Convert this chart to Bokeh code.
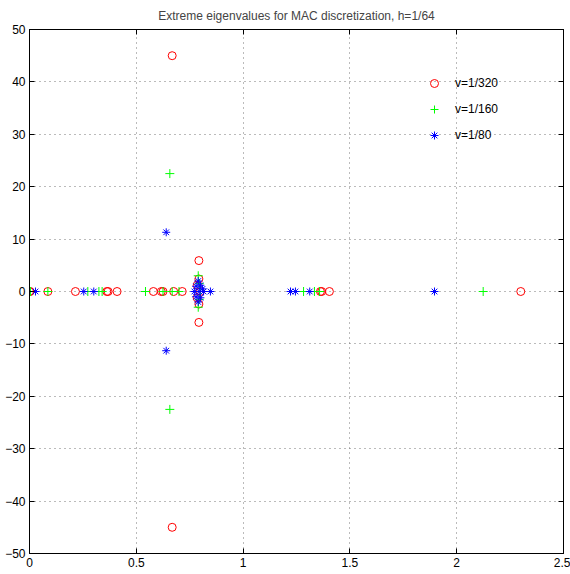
from bokeh.plotting import figure
from bokeh.models import Range1d, LinearAxis, Legend, LegendItem, FixedTicker
from bokeh.embed import file_html
from bokeh.resources import INLINE

# nu = 1/320
red_re = [0.0, 0.003, 0.086, 0.215, 0.362, 0.368, 0.41, 0.58, 0.617, 0.625, 0.675, 0.715,
          0.668, 0.668, 0.793, 0.793, 0.793, 0.793, 0.785, 0.785, 0.80, 1.362, 1.368, 1.404, 2.30]
red_im = [0, 0, 0, 0, 0, 0, 0, 0, 0, 0, 0, 0,
          45.0, -45.0, 5.9, -5.9, 2.4, -2.4, 1.2, -1.2, 0, 0, 0, 0, 0]
# nu = 1/160
green_re = [0.005, 0.086, 0.273, 0.325, 0.34, 0.543, 0.625, 0.668, 0.70, 0.657, 0.657,
            0.79, 0.79, 0.795, 0.795, 0.80, 1.283, 1.334, 1.358, 2.124]
green_im = [0, 0, 0, 0, 0, 0, 0, 0, 0, 22.5, -22.5, 3.0, -3.0, 1.5, -1.5, 0, 0, 0, 0, 0]
# nu = 1/80
blue_re = [0.028, 0.254, 0.301, 0.640, 0.640, 0.772, 0.78, 0.78, 0.79, 0.79, 0.795, 0.80,
           0.80, 0.81, 0.815, 0.847, 1.222, 1.245, 1.312, 1.896]
blue_im = [0, 0, 0, 11.3, -11.3, 0, 1.0, -1.0, 2.0, -2.0, 0, 1.2, -1.2, 0.5, 0, 0, 0, 0, 0, 0]

labels = ["v=1/320", "v=1/160", "v=1/80"]
x_ticks = [0, 0.5, 1, 1.5, 2, 2.5]
y_ticks = [-50, -40, -30, -20, -10, 0, 10, 20, 30, 40, 50]
title_text = "Extreme eigenvalues for MAC discretization, h=1/64"

FONT = "Liberation Sans"

p = figure(width=570, height=574, output_backend="svg", toolbar_location=None,
           x_range=Range1d(0, 2.5), y_range=Range1d(-50, 50),
           min_border_left=29, min_border_right=7, min_border_top=29, min_border_bottom=21,
           title=title_text)
p.title.align = "center"
p.title.text_font = FONT
p.title.text_font_size = "12px"
p.title.text_font_style = "normal"
p.title.standoff = 13
p.outline_line_color = "black"
p.background_fill_color = "white"
p.border_fill_color = "white"

for ax in (p.xaxis[0], p.yaxis[0]):
    ax.major_tick_in = 5
    ax.major_tick_out = 0
    ax.minor_tick_line_color = None
    ax.axis_line_color = "black"
    ax.major_tick_line_color = "black"
    ax.major_label_text_font = FONT
    ax.major_label_text_font_size = "12px"
    ax.major_label_text_color = "black"
    ax.major_label_standoff = 4
p.xaxis[0].ticker = FixedTicker(ticks=x_ticks)
p.yaxis[0].ticker = FixedTicker(ticks=y_ticks)

# box ticks on the right and top (no labels drawn)
ax_r = LinearAxis(ticker=FixedTicker(ticks=y_ticks), major_label_text_font_size="1px",
                  major_label_text_color=None, major_label_text_alpha=0,
                  major_tick_in=5, major_tick_out=0, minor_tick_line_color=None,
                  major_label_standoff=0, axis_line_color="black")
ax_t = LinearAxis(ticker=FixedTicker(ticks=x_ticks), major_label_text_font_size="1px",
                  major_label_text_color=None, major_label_text_alpha=0,
                  major_tick_in=5, major_tick_out=0, minor_tick_line_color=None,
                  major_label_standoff=0, axis_line_color="black")
p.add_layout(ax_r, "right")
p.add_layout(ax_t, "above")

for g in (p.xgrid[0], p.ygrid[0]):
    g.grid_line_color = "#777777"
    g.grid_line_dash = "1 4"
    g.grid_line_width = 1
p.xgrid[0].ticker = FixedTicker(ticks=x_ticks)
p.ygrid[0].ticker = FixedTicker(ticks=y_ticks)

r_red = p.scatter(red_re, red_im, marker="circle", size=8, fill_color=None,
                  line_color="#ff0000", line_width=1)
r_green = p.scatter(green_re, green_im, marker="cross", size=9,
                    line_color="#00ff00", line_width=1)
r_blue = p.scatter(blue_re, blue_im, marker="asterisk", size=8,
                   line_color="#0000ff", line_width=1)

legend = Legend(items=[LegendItem(label=labels[0], renderers=[r_red]),
                       LegendItem(label=labels[1], renderers=[r_green]),
                       LegendItem(label=labels[2], renderers=[r_blue])],
                location=(395, 408), padding=0, margin=0, spacing=6,
                glyph_width=20, glyph_height=20, label_height=20,
                label_standoff=11, background_fill_alpha=0, border_line_alpha=0,
                label_text_font=FONT, label_text_font_size="12px",
                label_text_color="black")
p.add_layout(legend, "center")

open("out.html", "w").write(file_html(p, INLINE))
